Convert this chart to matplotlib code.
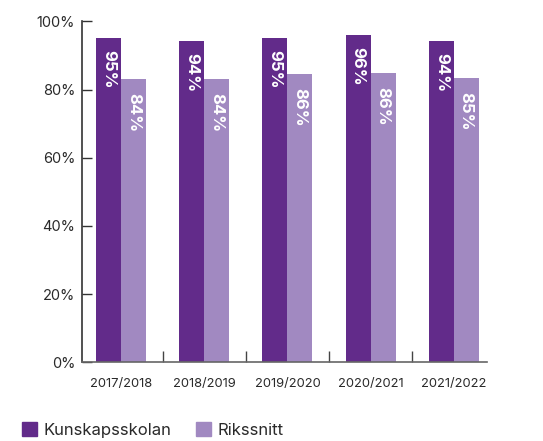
import matplotlib
matplotlib.use("Agg")
import matplotlib.pyplot as plt
import numpy as np
from matplotlib.patches import Patch

categories = ["2017/2018", "2018/2019", "2019/2020", "2020/2021", "2021/2022"]
kunskap = [95.1, 94.2, 95.1, 96.0, 94.2]
riks = [83.1, 83.1, 84.5, 84.9, 83.4]
kunskap_labels = ["95%", "94%", "95%", "96%", "94%"]
riks_labels = ["84%", "84%", "86%", "86%", "85%"]
yticks = [0, 20, 40, 60, 80, 100]
ytick_labels = ["0%", "20%", "40%", "60%", "80%", "100%"]

c_dark = "#622B8A"
c_light = "#A189C1"
c_text = "#2a2a2a"

plt.rcParams['font.family'] = ['Inter', 'DejaVu Sans']

fig = plt.figure(figsize=(5.43, 4.41), dpi=100)
ax = fig.add_axes([82/543, 1 - 362.3/441, (487-82)/543, (362.3-21.3)/441])

x = np.arange(len(categories))
w = 0.30
ax.bar(x - w/2, kunskap, width=w, color=c_dark, zorder=2)
ax.bar(x + w/2, riks, width=w, color=c_light, zorder=2)

for xi, v, lab in zip(x, kunskap, kunskap_labels):
    ax.text(xi - w/2, v - 3.6, lab, rotation=-90, ha='center', va='top',
            color='white', fontsize=12, fontweight='bold', zorder=3)
for xi, v, lab in zip(x, riks, riks_labels):
    ax.text(xi + w/2, v - 4.2, lab, rotation=-90, ha='center', va='top',
            color='white', fontsize=12, fontweight='bold', zorder=3)

ax.set_ylim(0, 100)
ax.set_xlim(-0.47, 4.40)
ax.set_yticks(yticks)
ax.set_yticklabels(ytick_labels, fontsize=10.5, color=c_text)
ax.set_xticks(x)
ax.set_xticklabels(categories, fontsize=9.3, color=c_text)
ax.set_xticks([0.5, 1.5, 2.5, 3.5], minor=True)
ax.tick_params(axis='x', which='major', length=0, pad=11)
ax.tick_params(axis='x', which='minor', direction='in', length=8, width=1, color='#444444')
ax.tick_params(axis='y', which='major', direction='in', length=7, width=1, color='#333333', pad=5)

for s in ['top', 'right']:
    ax.spines[s].set_visible(False)
for s in ['left', 'bottom']:
    ax.spines[s].set_color('#333333')
    ax.spines[s].set_linewidth(1.2)
ax.spines['bottom'].set_color('#666666')

handles = [Patch(color=c_dark, label="Kunskapsskolan"), Patch(color=c_light, label="Rikssnitt")]
fig.legend(handles=handles, loc='lower left', bbox_to_anchor=(0.012, -0.027), ncol=2,
           frameon=False, handlelength=0.9, handleheight=0.9, handletextpad=0.4,
           columnspacing=1.5, prop={'size': 12}, labelcolor=c_text)

fig.savefig("out.png", dpi=100)
